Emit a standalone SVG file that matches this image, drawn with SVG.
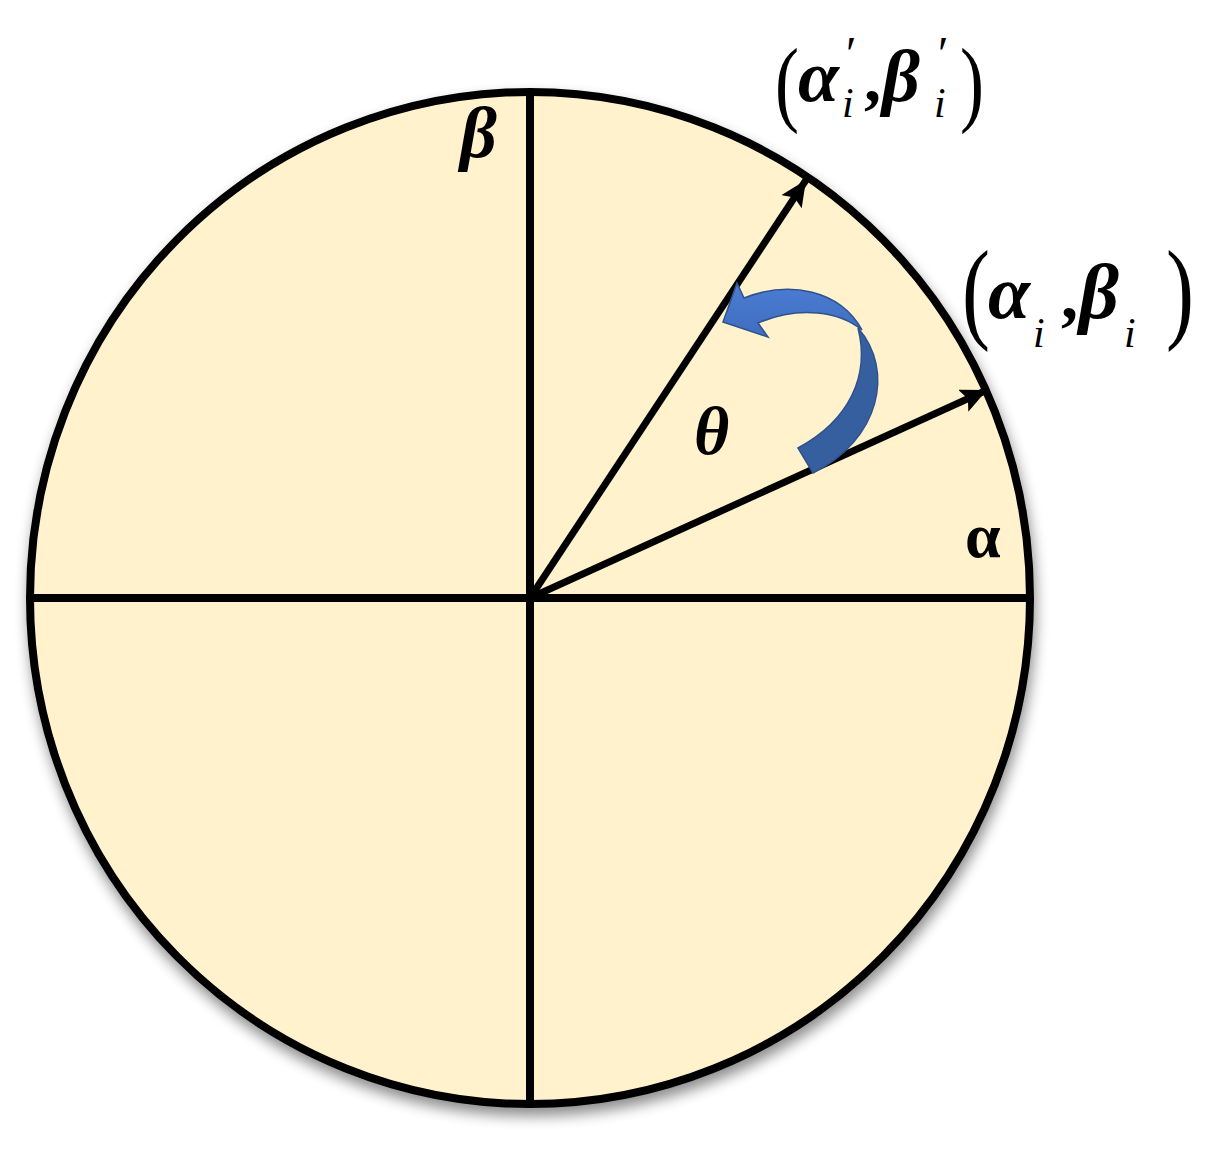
<svg xmlns="http://www.w3.org/2000/svg" width="1228" height="1152" viewBox="0 0 1228 1152">
<style>
.ax{stroke:#000;stroke-width:8;fill:none}
.vec{stroke:#000;stroke-width:7;fill:none}
.gk{font-family:"Liberation Serif","Times New Roman",serif;font-weight:bold;font-style:italic;fill:#000}
.gu{font-family:"Liberation Serif","Times New Roman",serif;font-weight:bold;fill:#000}
.sub{font-family:"Liberation Serif","Times New Roman",serif;font-style:italic;fill:#000}
.par{font-family:"Liberation Serif","Times New Roman",serif;fill:#000}
</style>
<defs>
<filter id="sh" x="-10%" y="-10%" width="120%" height="120%">
<feGaussianBlur in="SourceAlpha" stdDeviation="7"/>
<feOffset dx="2" dy="8" result="b"/>
<feComponentTransfer><feFuncA type="linear" slope="0.45"/></feComponentTransfer>
<feMerge><feMergeNode/><feMergeNode in="SourceGraphic"/></feMerge>
</filter>
<marker id="ah" markerUnits="userSpaceOnUse" markerWidth="30" markerHeight="26" refX="26" refY="12" orient="auto">
<path d="M0,0 L26,12 L0,24 L5,12 Z" fill="#000"/>
</marker>
<linearGradient id="lg" x1="0" y1="0" x2="0" y2="1">
<stop offset="0" stop-color="#4C7DD3"/>
<stop offset="1" stop-color="#3F6DBE"/>
</linearGradient>
</defs>
<g id="circle">
<ellipse cx="530" cy="598" rx="500" ry="506" fill="#FFF2CC" stroke="#000" stroke-width="8" filter="url(#sh)"/>
</g>
<g id="axes">
<line class="ax" x1="530" y1="92" x2="530" y2="1104"/>
<line class="ax" x1="30" y1="598" x2="1030" y2="598"/>
</g>
<g id="connectors">
<line class="vec" x1="530" y1="598" x2="987" y2="390" marker-end="url(#ah)"/>
<line class="vec" x1="530" y1="598" x2="806" y2="180" marker-end="url(#ah)"/>
</g>
<g id="rotation-arrow">
<path d="M744,298 C790,280 840,290 862,330 C840,312 800,305 758,323 L768,337 L723,322 L737,283 Z" fill="url(#lg)" stroke="#2F528F" stroke-width="1.5"/>
<path d="M858,328 C895,370 880,440 813,473 L798,448 C850,420 870,375 858,328 Z" fill="#365F9F" stroke="#2F528F" stroke-width="1.5"/>
</g>
<g id="labels">
<text class="gk" x="460" y="157" font-size="72">β</text>
<text class="gu" x="965" y="557" font-size="64">α</text>
<text class="gk" x="694" y="454" font-size="68">θ</text>
</g>
<g id="label-rotated">
<text class="par" transform="translate(775,114) scale(0.75,1)" font-size="96">(</text>
<text class="gk" x="798" y="101" font-size="74">α</text>
<text class="par" x="846" y="70" font-size="48">′</text>
<text class="sub" x="842" y="117" font-size="42">i</text>
<text class="gu" x="864" y="101" font-size="68">,</text>
<text class="gk" x="882" y="101" font-size="74">β</text>
<text class="par" x="938" y="70" font-size="48">′</text>
<text class="sub" x="934" y="117" font-size="42">i</text>
<text class="par" transform="translate(960,114) scale(0.75,1)" font-size="96">)</text>
</g>
<g id="label-original">
<text class="par" transform="translate(962,328) scale(0.75,1)" font-size="112">(</text>
<text class="gk" x="988" y="318" font-size="76">α</text>
<text class="sub" x="1033" y="347" font-size="42">i</text>
<text class="gu" x="1061" y="318" font-size="68">,</text>
<text class="gk" x="1079" y="318" font-size="78">β</text>
<text class="sub" x="1124" y="347" font-size="42">i</text>
<text class="par" transform="translate(1166,328) scale(0.75,1)" font-size="112">)</text>
</g>
</svg>
